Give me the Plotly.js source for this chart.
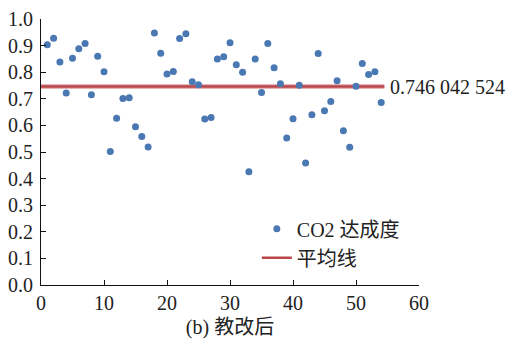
<!DOCTYPE html>
<html>
<head>
<meta charset="utf-8">
<script src="https://cdn.plot.ly/plotly-3.0.1.min.js"></script>
<style>html,body{margin:0;padding:0;background:#fff;}#chart{width:513px;height:339px;}</style>
</head>
<body>
<div id="chart"></div>
<script>
// Sample index (1..54) and CO2 attainment values
const sampleIdx = [1,2,3,4,5,6,7,8,9,10,11,12,13,14,15,16,17,18,19,20,21,22,23,24,25,26,27,
  28,29,30,31,32,33,34,35,36,37,38,39,40,41,42,43,44,45,46,47,48,49,50,51,52,53,54];
const attainment = [0.903,0.928,0.838,0.722,0.852,0.888,0.908,0.715,0.860,0.802,
  0.502,0.627,0.701,0.704,0.595,0.558,0.519,0.947,0.871,0.793,
  0.803,0.927,0.945,0.764,0.753,0.624,0.630,0.850,0.858,0.911,
  0.828,0.800,0.426,0.850,0.724,0.908,0.817,0.757,0.553,0.625,
  0.751,0.459,0.640,0.870,0.655,0.690,0.768,0.580,0.518,0.747,
  0.833,0.791,0.802,0.686];
const meanValue = 0.746042524;
const meanLabel = '0.746 042 524';
const meanX = [0, 54.5];
const meanY = [meanValue, meanValue];
const seriesNames = ['CO2 达成度', '平均线'];
const xTickVals = [0,10,20,30,40,50,60];
const yTickVals = [0,0.1,0.2,0.3,0.4,0.5,0.6,0.7,0.8,0.9,1.0];
const xTitle = '(b) 教改后';

const FONT = "Times New Roman, Liberation Serif, DejaVu Serif, Noto Sans CJK SC, serif";

const traces = [
  {x: meanX, y: meanY, mode: 'lines', showlegend: false, hoverinfo: 'skip',
   line: {color: 'rgba(200,90,90,0.45)', width: 5}},
  {x: meanX, y: meanY, mode: 'lines', name: seriesNames[1],
   line: {color: '#b8464b', width: 2.4}},
  {x: sampleIdx, y: attainment, mode: 'markers', name: seriesNames[0],
   marker: {color: '#4a78b2', size: 7}}
];

const layout = {
  width: 513, height: 339,
  margin: {l: 41, r: 94, t: 19, b: 54},
  paper_bgcolor: '#fff', plot_bgcolor: '#fff',
  font: {family: FONT, size: 20, color: '#222'},
  showlegend: true,
  legend: {x: 0.571, y: 0.285, xanchor: 'left', yanchor: 'top', traceorder: 'reversed',
           bgcolor: 'rgba(0,0,0,0)', font: {family: FONT, size: 20, color: '#222'},
           itemwidth: 30, tracegroupgap: 0},
  xaxis: {range: [0, 60], tickvals: xTickVals, showgrid: false, zeroline: false,
          showline: true, linecolor: '#111', linewidth: 1,
          ticks: 'inside', ticklen: 5, tickcolor: '#111',
          tickfont: {family: FONT, size: 20, color: '#222'},
          title: {text: xTitle, font: {family: FONT, size: 20, color: '#222'}, standoff: 6}},
  yaxis: {range: [0, 1], tickvals: yTickVals, tickformat: '.1f', showgrid: false, zeroline: false,
          showline: true, linecolor: '#111', linewidth: 1,
          ticks: 'inside', ticklen: 5, tickcolor: '#111', ticklabelstandoff: 3,
          tickfont: {family: FONT, size: 20, color: '#222'}},
  annotations: [{x: meanX[1], y: meanValue, xref: 'x', yref: 'y', text: meanLabel,
                 showarrow: false, xanchor: 'left', yanchor: 'middle', xshift: 4,
                 font: {family: FONT, size: 20, color: '#222'}}]
};

Plotly.newPlot('chart', traces, layout, {displayModeBar: false, staticPlot: true});
</script>
</body>
</html>
